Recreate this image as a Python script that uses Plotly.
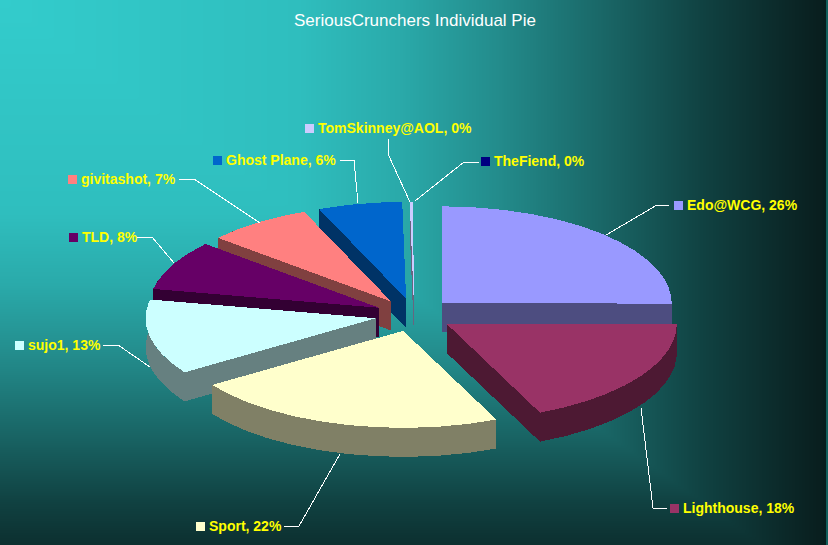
import math
import numpy as np
import plotly.graph_objects as go

# ---- data -------------------------------------------------------------
names = ["Edo@WCG", "Lighthouse", "Sport", "sujo1", "TLD", "givitashot",
         "Ghost Plane", "TomSkinney@AOL", "TheFiend"]
values = [25.0, 18.3, 22.2, 12.5, 8.3, 7.4, 5.9, 0.25, 0.02]
percent_labels = [26, 18, 22, 13, 8, 7, 6, 0, 0]

# ---- styles -----------------------------------------------------------
top_colors = ["#9999FF", "#993366", "#FFFFCC", "#CCFFFF", "#660066",
              "#FF8080", "#0066CC", "#CCCCFF", "#000080"]
side_colors = ["#4D4D80", "#4D1933", "#808066", "#668080", "#330033",
               "#804040", "#003366", "#666680", "#000040"]
TITLE = "SeriousCrunchers Individual Pie"

# ---- layout of the pie --------------------------------------------------
W, H = 828, 545
CX, CY, RX, RY = 414, 315, 230, 97
DEPTH = 29
EXPLODE = 0.17

label_text_x = [687, 683, 209, 28, 82, 81, 226, 318, 494]
label_y = [205, 508, 526, 345, 237, 179, 160, 128, 161]
leaders = [
    [(606, 235), (657, 205), (669, 205)],
    [(641, 408), (653, 508), (667, 508)],
    [(340, 454), (299, 526), (284, 526)],
    [(150, 367), (118, 345), (103, 345)],
    [(174, 263), (152, 237), (137, 237)],
    [(260, 223), (194, 179), (179, 179)],
    [(358, 203), (354, 160), (340, 160)],
    [(410, 202), (388, 154), (388, 139)],
    [(415, 201), (464, 162), (479, 162)],
]

fig = go.Figure()

# background "from corner" gradient
gx = np.arange(0, W + 4, 4)
gy = np.arange(0, H + 4, 4)
xx, yy = np.meshgrid(gx, gy)
tt = np.clip(np.maximum(xx, 1.4 * yy) / W, 0, 1)
fig.add_trace(go.Heatmap(
    x=gx, y=gy, z=tt, zmin=0, zmax=1, zsmooth="best", showscale=False, hoverinfo="skip",
    colorscale=[[0, "rgb(51,204,204)"], [.36, "rgb(47,190,190)"], [.48, "rgb(42,170,170)"],
                [.60, "rgb(35,140,140)"], [.72, "rgb(26,105,105)"], [.85, "rgb(16,65,65)"],
                [.97, "rgb(10,35,35)"], [1, "rgb(8,28,28)"]]))


def pt(ax, ay, deg):
    r = math.radians(deg)
    return ax + RX * math.sin(r), ay - RY * math.cos(r)


def poly(points, color):
    xs = [p[0] for p in points] + [points[0][0]]
    ys = [p[1] for p in points] + [points[0][1]]
    fig.add_trace(go.Scatter(x=xs, y=ys, mode="lines", fill="toself", fillcolor=color,
                             line=dict(color=color, width=0), hoverinfo="skip",
                             showlegend=False))


total = sum(values)
slices = []
acc = 0.0
for i, v in enumerate(values):
    a0 = acc / total * 360
    acc += v
    a1 = acc / total * 360
    mid = math.radians((a0 + a1) / 2)
    ax = CX + EXPLODE * RX * math.sin(mid)
    ay = CY - EXPLODE * RY * math.cos(mid)
    slices.append((ay, i, ax, a0, a1))

for ay, i, ax, a0, a1 in sorted(slices):
    n = max(2, int((a1 - a0) * 2))
    degs = [a0 + (a1 - a0) * k / n for k in range(n + 1)]
    arc = [pt(ax, ay, d) for d in degs]
    down = lambda p: (p[0], p[1] + DEPTH)
    # cut faces, rim, then top
    poly([(ax, ay), arc[0], down(arc[0]), (ax, ay + DEPTH)], side_colors[i])
    poly([(ax, ay), arc[-1], down(arc[-1]), (ax, ay + DEPTH)], side_colors[i])
    poly(arc + [down(p) for p in reversed(arc)], side_colors[i])
    poly([(ax, ay)] + arc, top_colors[i])

# leader lines
for seg in leaders:
    fig.add_trace(go.Scatter(x=[p[0] for p in seg], y=[p[1] for p in seg], mode="lines",
                             line=dict(color="white", width=1), hoverinfo="skip",
                             showlegend=False))

# labels with legend keys
fig.add_trace(go.Scatter(
    x=[x - 8.5 for x in label_text_x], y=label_y, mode="markers",
    marker=dict(symbol="square", size=9, color=top_colors, line=dict(width=0)),
    hoverinfo="skip", showlegend=False))
fig.add_trace(go.Scatter(
    x=label_text_x, y=[y + 1 for y in label_y], mode="text", textposition="middle right",
    text=[f"{n}, {p}%" for n, p in zip(names, percent_labels)],
    textfont=dict(family="Liberation Sans", size=14, color="#FFFF00", weight="bold"),
    hoverinfo="skip", showlegend=False))

# thin frame stripe at the right edge
fig.add_shape(type="line", x0=827, x1=827, y0=0, y1=H, line=dict(color="#125F5C", width=2))

fig.update_layout(
    width=W, height=H, margin=dict(l=0, r=0, t=0, b=0), showlegend=False,
    paper_bgcolor="#0E3A3A", plot_bgcolor="rgba(0,0,0,0)",
    xaxis=dict(range=[0, W], visible=False, fixedrange=True),
    yaxis=dict(range=[H, 0], visible=False, fixedrange=True),
    annotations=[dict(text=TITLE, x=415, y=20, xref="x", yref="y", showarrow=False,
                      font=dict(family="Liberation Sans", size=17, color="white"))],
)

fig.write_html("out.html", config={"displayModeBar": False},
               post_script="document.body.style.margin='0';document.body.style.overflow='hidden';"
                           "document.querySelectorAll('.scatterlayer path').forEach("
                           "p=>p.style.shapeRendering='crispEdges');")
